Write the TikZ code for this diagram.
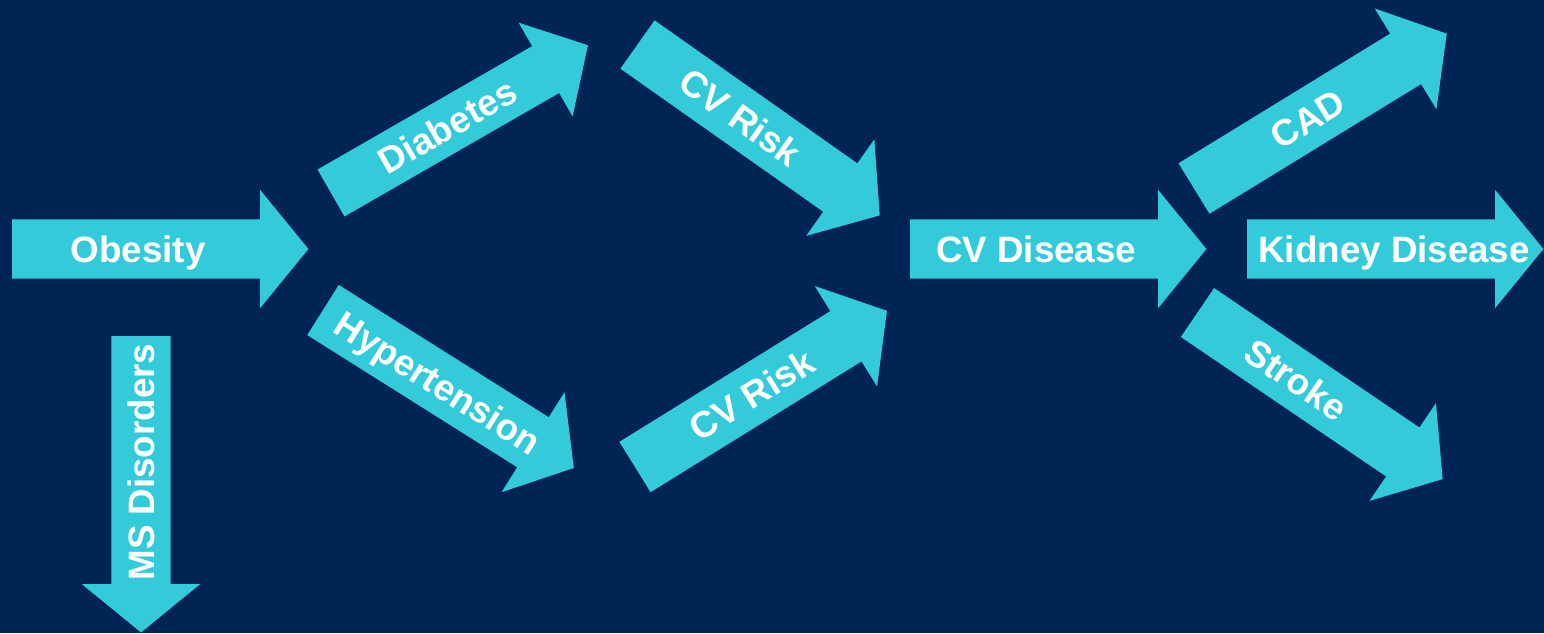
\documentclass[tikz,border=0pt]{standalone}
\usepackage{fontspec}
\setmainfont{Liberation Sans}
\usetikzlibrary{shapes.arrows}

\definecolor{slidenavy}{HTML}{002453}
\definecolor{arrowcyan}{HTML}{33CAD9}

\begin{document}
\begin{tikzpicture}[x=0.02cm, y=-0.02cm,
    arrowbox/.style={single arrow, fill=arrowcyan, draw=none, inner xsep=0pt, inner ysep=0.585cm,
        single arrow head extend=0.59cm, single arrow tip angle=101.5, single arrow head indent=0pt,
        minimum height=5.93cm, outer sep=0pt, anchor=tail},
    tag/.style={text=white, font=\fontsize{20.9}{25}\selectfont\bfseries, inner sep=0pt,
        text height=15pt, text depth=0pt}
]

% Background
\fill[slidenavy] (0,0) rectangle (1544,633);
\useasboundingbox (0,0) rectangle (1544,633);

% Arrows
\node[arrowbox] (obesity) at (12,249) {};
\node[arrowbox, rotate=-90] (ms) at (141,336) {};
\node[arrowbox, rotate=29.9, inner ysep=0.534cm, single arrow head extend=0.54cm,
    single arrow tip angle=95.8] (diabetes) at (331,193) {};
\node[arrowbox, rotate=-32.2] (hyper) at (323,310) {};
\node[arrowbox, rotate=-35.2] (riskup) at (637.5,44.5) {};
\node[arrowbox, rotate=31.8] (riskdown) at (635,467) {};
\node[arrowbox] (cvd) at (910,249) {};
\node[arrowbox, rotate=31.5] (cad) at (1194,188.5) {};
\node[arrowbox] (kidney) at (1247,249) {};
\node[arrowbox, rotate=-34.2] (stroke) at (1197.5,312.5) {};

% Labels (the arrow centre sits a little past the middle of the body)
\node[tag, xshift=-0.2cm] at (obesity.center) {Obesity};
\node[tag, rotate=90, xshift=0.2cm] at (ms.center) {MS Disorders};
\node[tag, rotate=29.9, xshift=-0.04cm] at (diabetes.center) {Diabetes};
\node[tag, rotate=-32.2] at (hyper.center) {Hypertension};
\node[tag, rotate=-35.2, xshift=-0.2cm] at (riskup.center) {CV Risk};
\node[tag, rotate=31.8, xshift=0.02cm] at (riskdown.center) {CV Risk};
\node[tag, xshift=-0.2cm] at (cvd.center) {CV Disease};
\node[tag, rotate=31.5, xshift=-0.06cm] at (cad.center) {CAD};
\node[tag, xshift=0.22cm] at (kidney.center) {Kidney Disease};
\node[tag, rotate=-34.2, xshift=-0.34cm] at (stroke.center) {Stroke};

\end{tikzpicture}
\end{document}
